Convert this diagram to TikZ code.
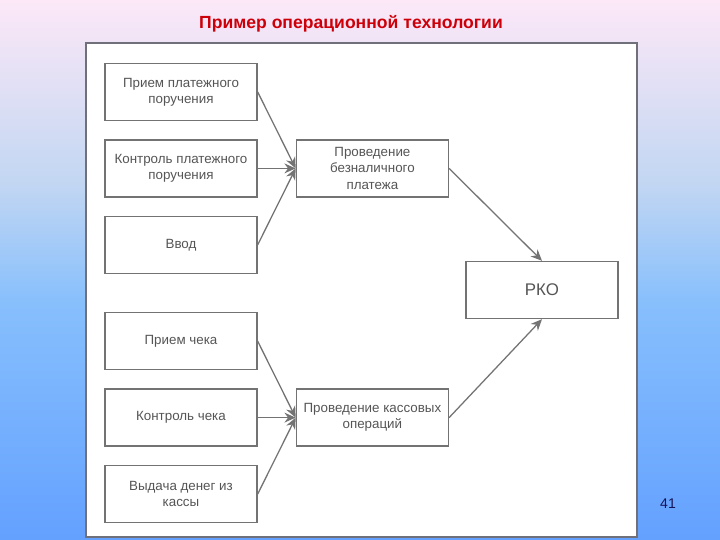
\documentclass[tikz,border=0pt]{standalone}
\usepackage{fontspec}
\setmainfont{Liberation Sans}
\usepackage{xcolor}
\definecolor{boxgray}{RGB}{115,115,115}
\definecolor{txtgray}{RGB}{85,85,85}
\definecolor{framegray}{RGB}{112,112,122}
\definecolor{titlered}{RGB}{205,0,10}
\definecolor{pagenavy}{RGB}{20,20,90}
\usepackage{tikz}
\usetikzlibrary{arrows.meta,positioning}
\pgfdeclareverticalshading{slidebg}{100bp}{rgb(0bp)=(0.39,0.63,1);rgb(25bp)=(0.39,0.63,1);
  rgb(47bp)=(0.53,0.75,0.99);rgb(58bp)=(0.76,0.84,0.95);rgb(75bp)=(0.99,0.91,0.97);rgb(100bp)=(0.99,0.91,0.97)}

\begin{document}
\begin{tikzpicture}[
  node distance=0.45cm and 0.95cm,
  opbox/.style={rectangle,draw=boxgray,fill=white,line width=1pt,
                minimum height=1.425cm,minimum width=3.8cm,align=center,
                text=txtgray,font=\fontsize{9.5}{11.5}\selectfont},
  arrow/.style={-{Stealth[length=8pt,width=7pt]},boxgray,line width=0.9pt},
]
\useasboundingbox (0,0) rectangle (18,13.5);
\shade[shading=slidebg] (0,0) rectangle (18,13.5);
\draw[framegray,fill=white,line width=1.5pt] (2.15,0.075) rectangle (15.925,12.425);
\node[font=\fontsize{12.5}{14}\selectfont\bfseries,text=titlered] (title) at (8.775,12.9) {Пример операционной технологии};
% безналичные
\node[opbox] (pp1) at (4.525,11.2) {Прием платежного\\поручения};
\node[opbox, below=of pp1] (pp2) {Контроль платежного\\поручения};
\node[opbox, below=of pp2] (pp3) {Ввод};
\node[opbox, right=of pp2] (beznal) {Проведение\\безналичного\\платежа};
% кассовые
\node[opbox, below=0.95cm of pp3] (ch1) {Прием чека};
\node[opbox, below=of ch1] (ch2) {Контроль чека};
\node[opbox, below=of ch2] (ch3) {Выдача денег из\\кассы};
\node[opbox, right=of ch2] (kassa) {Проведение кассовых\\операций};
\node[opbox, font=\fontsize{12}{14}\selectfont] (rko) at (13.55,6.25) {РКО};
\draw[arrow] (pp1.east)--(beznal.west); \draw[arrow] (pp2.east)--(beznal.west); \draw[arrow] (pp3.east)--(beznal.west);
\draw[arrow] (ch1.east)--(kassa.west); \draw[arrow] (ch2.east)--(kassa.west); \draw[arrow] (ch3.east)--(kassa.west);
\draw[arrow] (beznal.east)--(rko.north); \draw[arrow] (kassa.east)--(rko.south);
\node[font=\fontsize{10}{12}\selectfont,text=pagenavy] (page) at (16.7,0.9) {41};
\end{tikzpicture}
\end{document}
